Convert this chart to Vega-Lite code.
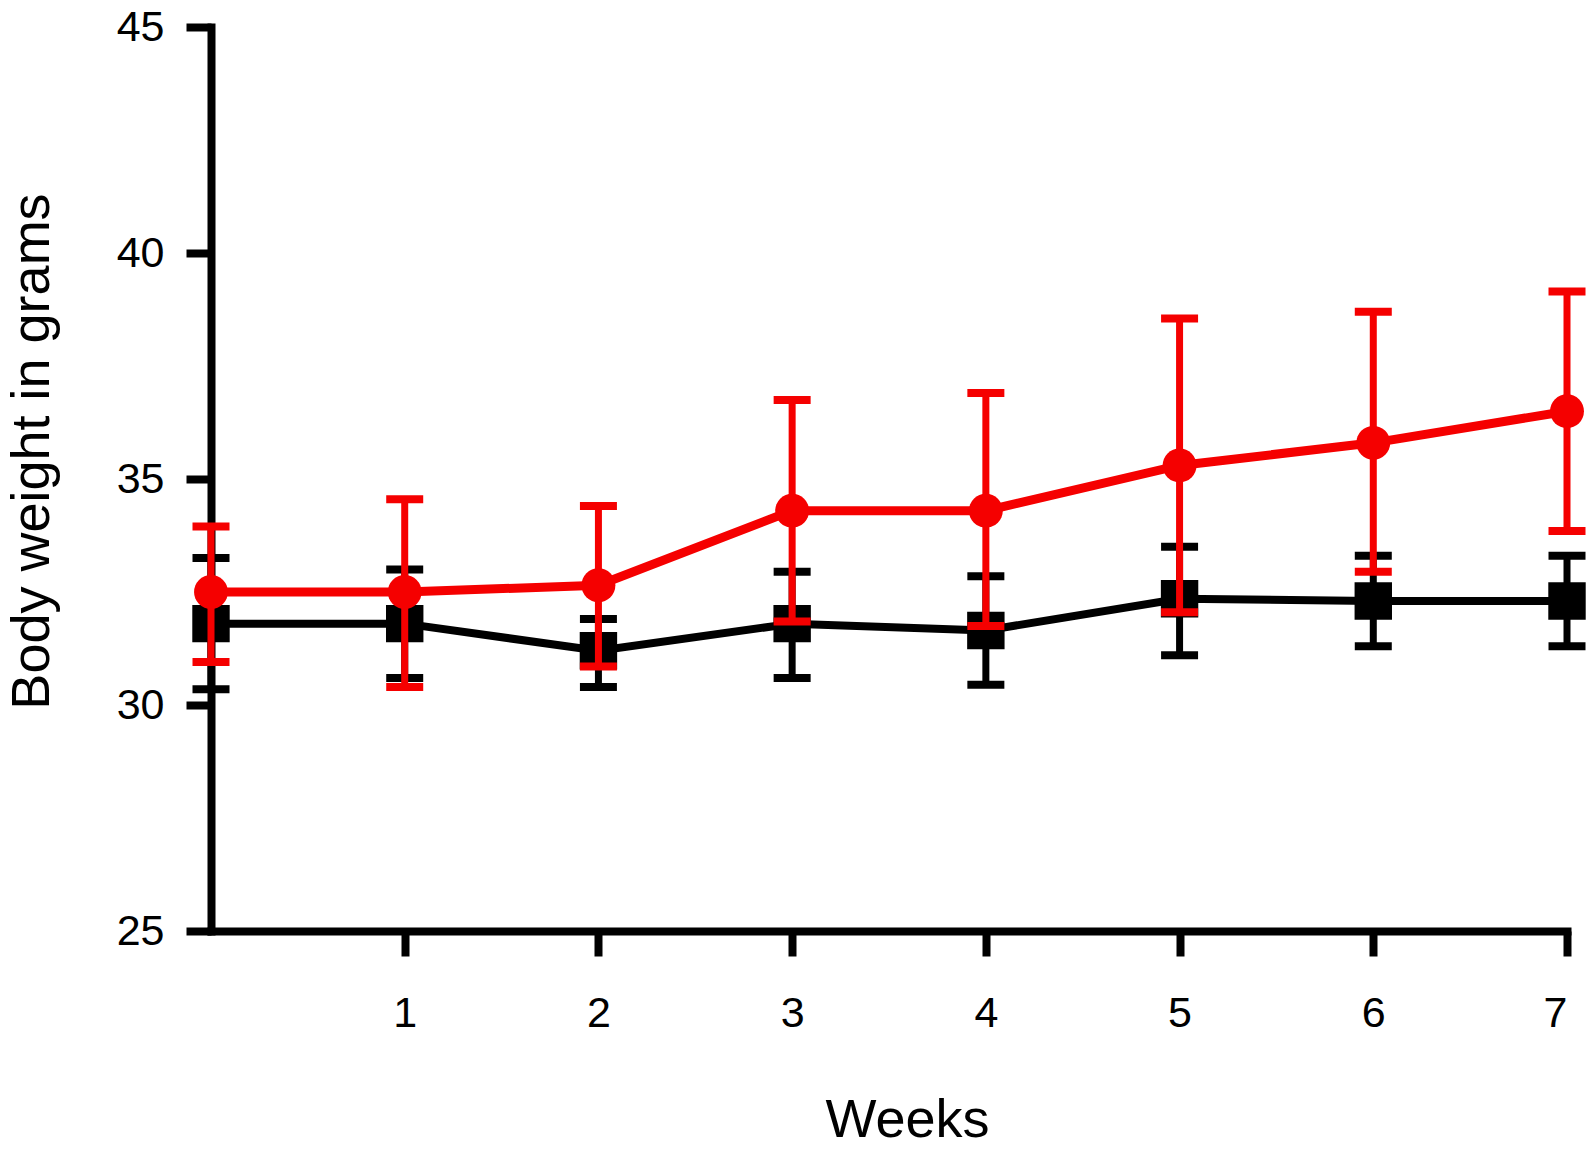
{
  "$schema": "https://vega.github.io/schema/vega-lite/v6.json",
  "width": 1356,
  "height": 904,
  "autosize": {"type": "none"},
  "padding": {"left": 211, "top": 27, "right": 22, "bottom": 219},
  "background": "white",
  "config": {
    "view": {"stroke": null},
    "font": "Liberation Sans",
    "axis": {
      "grid": false,
      "domainColor": "black",
      "domainWidth": 8,
      "domainCap": "square",
      "tickColor": "black",
      "tickWidth": 8,
      "tickSize": 25,
      "labelColor": "black",
      "labelFontSize": 43,
      "labelFont": "Liberation Sans",
      "titleFont": "Liberation Sans",
      "titleColor": "black",
      "titleFontSize": 54,
      "titleFontWeight": "normal"
    }
  },
  "data": {
    "values": [
      {"group": "A", "week": 0, "mean": 31.8, "lo": 30.35, "hi": 33.25},
      {"group": "A", "week": 1, "mean": 31.8, "lo": 30.6, "hi": 33.0},
      {"group": "A", "week": 2, "mean": 31.2, "lo": 30.4, "hi": 31.9},
      {"group": "A", "week": 3, "mean": 31.8, "lo": 30.6, "hi": 32.95},
      {"group": "A", "week": 4, "mean": 31.65, "lo": 30.45, "hi": 32.85},
      {"group": "A", "week": 5, "mean": 32.35, "lo": 31.1, "hi": 33.5},
      {"group": "A", "week": 6, "mean": 32.3, "lo": 31.3, "hi": 33.3},
      {"group": "A", "week": 7, "mean": 32.3, "lo": 31.3, "hi": 33.3},
      {"group": "B", "week": 0, "mean": 32.5, "lo": 30.95, "hi": 33.95},
      {"group": "B", "week": 1, "mean": 32.5, "lo": 30.4, "hi": 34.55},
      {"group": "B", "week": 2, "mean": 32.65, "lo": 30.85, "hi": 34.4},
      {"group": "B", "week": 3, "mean": 34.3, "lo": 31.85, "hi": 36.75},
      {"group": "B", "week": 4, "mean": 34.3, "lo": 31.75, "hi": 36.9},
      {"group": "B", "week": 5, "mean": 35.3, "lo": 32.05, "hi": 38.55},
      {"group": "B", "week": 6, "mean": 35.8, "lo": 32.95, "hi": 38.7},
      {"group": "B", "week": 7, "mean": 36.5, "lo": 33.85, "hi": 39.15}
    ]
  },
  "encoding": {
    "x": {
      "field": "week",
      "type": "quantitative",
      "scale": {"domain": [0, 7], "nice": false, "zero": false},
      "axis": {
        "values": [1, 2, 3, 4, 5, 6, 7],
        "labelPadding": 36,
        "title": "Weeks",
        "titleX": 696,
        "titleY": 205,
        "titleAlign": "center",
        "titleBaseline": "alphabetic"
      }
    }
  },
  "layer": [
    {
      "transform": [{"filter": "datum.group === 'A'"}],
      "mark": {"type": "line", "color": "black", "strokeWidth": 8},
      "encoding": {
        "y": {
          "field": "mean",
          "type": "quantitative",
          "scale": {"domain": [25, 45], "nice": false, "zero": false},
          "axis": {"values": [25, 30, 35, 40, 45], "labelPadding": 22, "title": "Body weight in grams", "titleX": -163, "titleY": 424, "titleAngle": -90, "titleAlign": "center", "titleBaseline": "alphabetic"}
        }
      }
    },
    {
      "transform": [{"filter": "datum.group === 'A'"}],
      "mark": {"type": "rule", "color": "black", "strokeWidth": 7},
      "encoding": {
        "y": {"field": "lo", "type": "quantitative", "axis": {"values": [25, 30, 35, 40, 45], "labelPadding": 22, "title": "Body weight in grams", "titleX": -163, "titleY": 424, "titleAngle": -90, "titleAlign": "center", "titleBaseline": "alphabetic"}},
        "y2": {"field": "hi"}
      }
    },
    {
      "transform": [{"filter": "datum.group === 'A'"}],
      "mark": {"type": "tick", "color": "black", "orient": "horizontal", "size": 37, "thickness": 8, "opacity": 1},
      "encoding": {"y": {"field": "lo", "type": "quantitative", "axis": {"values": [25, 30, 35, 40, 45], "labelPadding": 22, "title": "Body weight in grams", "titleX": -163, "titleY": 424, "titleAngle": -90, "titleAlign": "center", "titleBaseline": "alphabetic"}}}
    },
    {
      "transform": [{"filter": "datum.group === 'A'"}],
      "mark": {"type": "tick", "color": "black", "orient": "horizontal", "size": 37, "thickness": 8, "opacity": 1},
      "encoding": {"y": {"field": "hi", "type": "quantitative", "axis": {"values": [25, 30, 35, 40, 45], "labelPadding": 22, "title": "Body weight in grams", "titleX": -163, "titleY": 424, "titleAngle": -90, "titleAlign": "center", "titleBaseline": "alphabetic"}}}
    },
    {
      "transform": [{"filter": "datum.group === 'A'"}],
      "mark": {"type": "point", "shape": "square", "filled": true, "color": "black", "size": 1400, "opacity": 1},
      "encoding": {"y": {"field": "mean", "type": "quantitative", "axis": {"values": [25, 30, 35, 40, 45], "labelPadding": 22, "title": "Body weight in grams", "titleX": -163, "titleY": 424, "titleAngle": -90, "titleAlign": "center", "titleBaseline": "alphabetic"}}}
    },
    {
      "transform": [{"filter": "datum.group === 'B'"}],
      "mark": {"type": "line", "color": "#f50000", "strokeWidth": 9},
      "encoding": {"y": {"field": "mean", "type": "quantitative", "axis": {"values": [25, 30, 35, 40, 45], "labelPadding": 22, "title": "Body weight in grams", "titleX": -163, "titleY": 424, "titleAngle": -90, "titleAlign": "center", "titleBaseline": "alphabetic"}}}
    },
    {
      "transform": [{"filter": "datum.group === 'B'"}],
      "mark": {"type": "rule", "color": "#f50000", "strokeWidth": 7},
      "encoding": {
        "y": {"field": "lo", "type": "quantitative", "axis": {"values": [25, 30, 35, 40, 45], "labelPadding": 22, "title": "Body weight in grams", "titleX": -163, "titleY": 424, "titleAngle": -90, "titleAlign": "center", "titleBaseline": "alphabetic"}},
        "y2": {"field": "hi"}
      }
    },
    {
      "transform": [{"filter": "datum.group === 'B'"}],
      "mark": {"type": "tick", "color": "#f50000", "orient": "horizontal", "size": 37, "thickness": 8, "opacity": 1},
      "encoding": {"y": {"field": "lo", "type": "quantitative", "axis": {"values": [25, 30, 35, 40, 45], "labelPadding": 22, "title": "Body weight in grams", "titleX": -163, "titleY": 424, "titleAngle": -90, "titleAlign": "center", "titleBaseline": "alphabetic"}}}
    },
    {
      "transform": [{"filter": "datum.group === 'B'"}],
      "mark": {"type": "tick", "color": "#f50000", "orient": "horizontal", "size": 37, "thickness": 8, "opacity": 1},
      "encoding": {"y": {"field": "hi", "type": "quantitative", "axis": {"values": [25, 30, 35, 40, 45], "labelPadding": 22, "title": "Body weight in grams", "titleX": -163, "titleY": 424, "titleAngle": -90, "titleAlign": "center", "titleBaseline": "alphabetic"}}}
    },
    {
      "transform": [{"filter": "datum.group === 'B'"}],
      "mark": {"type": "point", "shape": "circle", "filled": true, "color": "#f50000", "size": 1150, "opacity": 1},
      "encoding": {"y": {"field": "mean", "type": "quantitative", "axis": {"values": [25, 30, 35, 40, 45], "labelPadding": 22, "title": "Body weight in grams", "titleX": -163, "titleY": 424, "titleAngle": -90, "titleAlign": "center", "titleBaseline": "alphabetic"}}}
    }
  ]
}
